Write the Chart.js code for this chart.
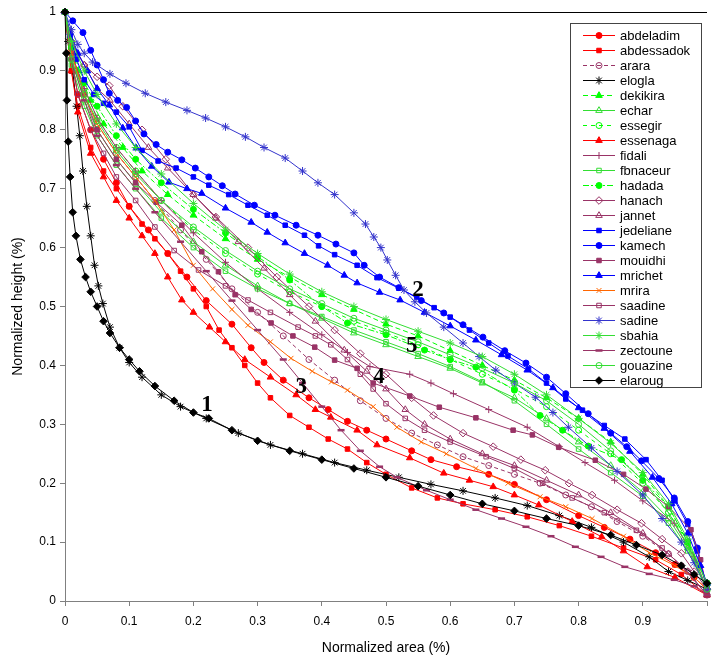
<!DOCTYPE html>
<html>
<head>
<meta charset="utf-8">
<script src="https://cdn.jsdelivr.net/npm/chart.js@4.4.0/dist/chart.umd.min.js"></script>
<style>
  body { margin: 0; background: #fff; }
  canvas { display: block; }
</style>
</head>
<body>
<canvas id="hypso" width="715" height="662"></canvas>
<script>
// normalized area (x) / normalized height (y) pairs
const abdeladim = [[0,1],[0.01,0.92],[0.02,0.86],[0.04,0.8],[0.06,0.75],[0.08,0.71],[0.1,0.67],[0.13,0.63],[0.16,0.59],[0.19,0.55],[0.22,0.51],[0.26,0.47],[0.29,0.43],[0.31,0.405],[0.34,0.375],[0.38,0.345],[0.41,0.325],[0.44,0.305],[0.47,0.29],[0.5,0.275],[0.54,0.255],[0.57,0.24],[0.61,0.228],[0.66,0.215],[0.7,0.198],[0.75,0.172],[0.8,0.145],[0.84,0.125],[0.88,0.105],[0.92,0.082],[0.95,0.062],[0.98,0.04],[1,0.02]];
const abdessadok = [[0,1],[0.01,0.9],[0.02,0.84],[0.04,0.77],[0.06,0.73],[0.08,0.7],[0.1,0.67],[0.12,0.64],[0.14,0.615],[0.16,0.59],[0.18,0.56],[0.2,0.53],[0.22,0.5],[0.24,0.46],[0.26,0.43],[0.28,0.4],[0.3,0.37],[0.32,0.345],[0.35,0.315],[0.38,0.295],[0.41,0.275],[0.44,0.258],[0.47,0.235],[0.5,0.215],[0.54,0.192],[0.58,0.175],[0.62,0.165],[0.67,0.155],[0.72,0.143],[0.77,0.128],[0.82,0.11],[0.87,0.09],[0.92,0.07],[0.96,0.045],[1,0.01]];
const arara = [[0,1],[0.01,0.93],[0.03,0.86],[0.05,0.81],[0.08,0.76],[0.11,0.72],[0.14,0.68],[0.18,0.63],[0.22,0.58],[0.26,0.53],[0.3,0.49],[0.34,0.45],[0.38,0.41],[0.42,0.375],[0.46,0.34],[0.5,0.31],[0.54,0.285],[0.58,0.265],[0.62,0.245],[0.66,0.23],[0.7,0.215],[0.74,0.2],[0.78,0.18],[0.82,0.16],[0.86,0.135],[0.9,0.11],[0.94,0.08],[0.97,0.05],[1,0.01]];
const elogla = [[0,1],[0.005,0.95],[0.012,0.9],[0.018,0.84],[0.023,0.79],[0.028,0.73],[0.034,0.67],[0.04,0.62],[0.046,0.57],[0.052,0.535],[0.059,0.505],[0.07,0.465],[0.085,0.43],[0.1,0.405],[0.12,0.38],[0.15,0.35],[0.18,0.33],[0.22,0.31],[0.27,0.285],[0.32,0.265],[0.37,0.25],[0.42,0.235],[0.47,0.222],[0.52,0.21],[0.57,0.198],[0.62,0.187],[0.67,0.175],[0.72,0.162],[0.77,0.145],[0.82,0.125],[0.87,0.1],[0.91,0.075],[0.94,0.05],[0.97,0.035],[1,0.02]];
const dekikira = [[0,1],[0.01,0.94],[0.02,0.9],[0.04,0.85],[0.06,0.81],[0.09,0.77],[0.12,0.73],[0.16,0.69],[0.2,0.655],[0.25,0.615],[0.3,0.58],[0.35,0.55],[0.4,0.52],[0.45,0.495],[0.5,0.47],[0.55,0.45],[0.6,0.425],[0.65,0.4],[0.7,0.375],[0.75,0.345],[0.8,0.31],[0.85,0.27],[0.9,0.215],[0.94,0.16],[0.97,0.1],[1,0.03]];
const echar = [[0,1],[0.01,0.92],[0.03,0.85],[0.05,0.8],[0.08,0.75],[0.11,0.71],[0.15,0.66],[0.2,0.61],[0.25,0.57],[0.3,0.535],[0.35,0.505],[0.4,0.48],[0.45,0.455],[0.5,0.435],[0.55,0.415],[0.6,0.395],[0.65,0.37],[0.7,0.345],[0.75,0.31],[0.8,0.27],[0.85,0.23],[0.9,0.185],[0.94,0.14],[0.97,0.09],[1,0.02]];
const essegir = [[0,1],[0.01,0.93],[0.03,0.87],[0.05,0.82],[0.08,0.77],[0.11,0.73],[0.15,0.68],[0.2,0.63],[0.25,0.59],[0.3,0.555],[0.35,0.525],[0.4,0.5],[0.45,0.475],[0.5,0.455],[0.55,0.435],[0.6,0.41],[0.65,0.385],[0.7,0.36],[0.75,0.33],[0.8,0.29],[0.85,0.25],[0.9,0.2],[0.94,0.15],[0.97,0.1],[1,0.03]];
const essenaga = [[0,1],[0.01,0.9],[0.02,0.83],[0.04,0.76],[0.06,0.72],[0.08,0.68],[0.1,0.65],[0.12,0.62],[0.14,0.59],[0.16,0.55],[0.182,0.511],[0.2,0.49],[0.225,0.465],[0.25,0.44],[0.28,0.41],[0.32,0.38],[0.36,0.35],[0.39,0.325],[0.414,0.312],[0.455,0.29],[0.486,0.265],[0.537,0.243],[0.59,0.217],[0.63,0.205],[0.667,0.194],[0.7,0.18],[0.738,0.163],[0.79,0.135],[0.836,0.109],[0.87,0.085],[0.907,0.058],[0.95,0.04],[1,0.01]];
const fidali = [[0,1],[0.01,0.93],[0.03,0.87],[0.05,0.82],[0.08,0.77],[0.11,0.73],[0.15,0.68],[0.2,0.625],[0.25,0.575],[0.3,0.53],[0.35,0.49],[0.4,0.452],[0.44,0.422],[0.475,0.398],[0.537,0.385],[0.57,0.37],[0.605,0.352],[0.66,0.325],[0.72,0.295],[0.77,0.262],[0.81,0.235],[0.856,0.205],[0.9,0.17],[0.949,0.132],[0.98,0.075],[1,0.02]];
const fbnaceur = [[0,1],[0.01,0.91],[0.03,0.84],[0.05,0.79],[0.08,0.74],[0.11,0.7],[0.15,0.65],[0.2,0.6],[0.25,0.56],[0.3,0.53],[0.35,0.505],[0.4,0.483],[0.45,0.46],[0.5,0.44],[0.55,0.42],[0.6,0.398],[0.65,0.372],[0.7,0.34],[0.75,0.3],[0.8,0.258],[0.85,0.218],[0.9,0.178],[0.94,0.132],[0.97,0.085],[1,0.02]];
const hadada = [[0,1],[0.01,0.94],[0.03,0.88],[0.05,0.84],[0.08,0.79],[0.11,0.75],[0.15,0.71],[0.2,0.665],[0.25,0.625],[0.3,0.585],[0.35,0.545],[0.4,0.5],[0.44,0.472],[0.5,0.452],[0.56,0.426],[0.6,0.41],[0.64,0.397],[0.7,0.358],[0.74,0.315],[0.775,0.29],[0.815,0.263],[0.867,0.24],[0.9,0.205],[0.94,0.16],[0.97,0.1],[1,0.03]];
const hanach = [[0,1],[0.01,0.95],[0.03,0.91],[0.05,0.89],[0.069,0.875],[0.09,0.84],[0.12,0.8],[0.157,0.75],[0.2,0.69],[0.235,0.652],[0.285,0.6],[0.33,0.55],[0.38,0.5],[0.42,0.46],[0.46,0.42],[0.5,0.385],[0.54,0.345],[0.574,0.315],[0.62,0.285],[0.667,0.262],[0.71,0.24],[0.748,0.222],[0.785,0.2],[0.821,0.18],[0.86,0.155],[0.898,0.132],[0.93,0.105],[0.96,0.081],[0.98,0.05],[1,0.02]];
const jannet = [[0,1],[0.01,0.95],[0.03,0.91],[0.05,0.87],[0.07,0.85],[0.1,0.81],[0.13,0.77],[0.16,0.735],[0.2,0.69],[0.235,0.65],[0.27,0.61],[0.31,0.565],[0.35,0.52],[0.39,0.475],[0.435,0.426],[0.47,0.39],[0.5,0.36],[0.53,0.325],[0.56,0.3],[0.6,0.275],[0.65,0.25],[0.7,0.23],[0.75,0.205],[0.8,0.18],[0.85,0.15],[0.9,0.115],[0.94,0.08],[0.97,0.05],[1,0.01]];
const jedeliane = [[0,1],[0.008,0.96],[0.018,0.92],[0.03,0.885],[0.045,0.86],[0.06,0.845],[0.08,0.83],[0.1,0.805],[0.12,0.765],[0.145,0.747],[0.173,0.735],[0.2,0.72],[0.224,0.706],[0.255,0.69],[0.285,0.672],[0.315,0.655],[0.343,0.638],[0.373,0.621],[0.395,0.603],[0.42,0.588],[0.455,0.57],[0.486,0.549],[0.52,0.531],[0.548,0.516],[0.575,0.498],[0.6,0.482],[0.63,0.46],[0.66,0.438],[0.69,0.416],[0.722,0.394],[0.75,0.37],[0.78,0.343],[0.806,0.324],[0.84,0.298],[0.872,0.275],[0.905,0.24],[0.93,0.205],[0.95,0.17],[0.97,0.13],[0.985,0.085],[1,0.02]];
const kamech = [[0,1],[0.012,0.985],[0.028,0.965],[0.04,0.935],[0.05,0.91],[0.06,0.885],[0.069,0.862],[0.082,0.85],[0.096,0.838],[0.11,0.815],[0.123,0.793],[0.142,0.775],[0.16,0.762],[0.182,0.749],[0.203,0.735],[0.224,0.72],[0.245,0.705],[0.265,0.691],[0.295,0.672],[0.327,0.655],[0.36,0.638],[0.394,0.621],[0.422,0.606],[0.45,0.591],[0.466,0.57],[0.49,0.55],[0.52,0.532],[0.555,0.51],[0.59,0.489],[0.62,0.469],[0.651,0.448],[0.685,0.425],[0.718,0.404],[0.75,0.38],[0.78,0.352],[0.815,0.318],[0.85,0.285],[0.875,0.262],[0.898,0.238],[0.925,0.208],[0.949,0.175],[0.97,0.135],[0.985,0.09],[1,0.02]];
const mouidhi = [[0,1],[0.01,0.93],[0.03,0.86],[0.05,0.8],[0.08,0.75],[0.11,0.71],[0.142,0.677],[0.182,0.638],[0.213,0.593],[0.239,0.559],[0.265,0.52],[0.29,0.495],[0.321,0.472],[0.355,0.45],[0.389,0.431],[0.42,0.409],[0.455,0.395],[0.48,0.37],[0.537,0.348],[0.583,0.329],[0.64,0.311],[0.698,0.29],[0.728,0.282],[0.769,0.261],[0.826,0.239],[0.87,0.215],[0.905,0.19],[0.94,0.16],[0.975,0.121],[0.99,0.07],[1,0.02]];
const mrichet = [[0,1],[0.008,0.965],[0.02,0.93],[0.035,0.9],[0.05,0.87],[0.069,0.842],[0.09,0.803],[0.111,0.769],[0.135,0.738],[0.162,0.711],[0.19,0.7],[0.213,0.692],[0.25,0.667],[0.29,0.643],[0.315,0.626],[0.343,0.608],[0.373,0.59],[0.409,0.57],[0.435,0.553],[0.455,0.54],[0.49,0.524],[0.522,0.511],[0.56,0.49],[0.6,0.467],[0.64,0.443],[0.68,0.418],[0.72,0.392],[0.76,0.362],[0.8,0.328],[0.84,0.293],[0.88,0.254],[0.915,0.21],[0.945,0.165],[0.97,0.115],[0.99,0.06],[1,0.03]];
const mrira = [[0,1],[0.01,0.93],[0.03,0.86],[0.05,0.81],[0.08,0.76],[0.11,0.72],[0.14,0.68],[0.17,0.63],[0.2,0.57],[0.23,0.53],[0.26,0.495],[0.285,0.468],[0.32,0.44],[0.352,0.412],[0.385,0.39],[0.415,0.372],[0.44,0.358],[0.48,0.33],[0.517,0.295],[0.555,0.27],[0.594,0.25],[0.64,0.225],[0.69,0.2],[0.74,0.177],[0.78,0.16],[0.821,0.14],[0.87,0.11],[0.91,0.082],[0.95,0.06],[0.98,0.04],[1,0.02]];
const saadine = [[0,1],[0.01,0.92],[0.02,0.86],[0.04,0.8],[0.06,0.76],[0.08,0.72],[0.11,0.68],[0.14,0.635],[0.17,0.595],[0.208,0.562],[0.25,0.535],[0.285,0.511],[0.32,0.49],[0.363,0.465],[0.39,0.45],[0.414,0.435],[0.44,0.41],[0.46,0.385],[0.48,0.36],[0.5,0.335],[0.53,0.31],[0.56,0.29],[0.6,0.27],[0.656,0.245],[0.7,0.225],[0.744,0.2],[0.79,0.175],[0.84,0.15],[0.89,0.12],[0.93,0.09],[0.96,0.06],[1,0.01]];
const sadine = [[0,1],[0.01,0.97],[0.02,0.945],[0.03,0.93],[0.043,0.915],[0.07,0.895],[0.095,0.879],[0.125,0.862],[0.157,0.847],[0.19,0.833],[0.219,0.82],[0.25,0.805],[0.281,0.788],[0.31,0.77],[0.343,0.752],[0.37,0.73],[0.394,0.71],[0.42,0.69],[0.45,0.659],[0.468,0.64],[0.481,0.618],[0.492,0.6],[0.502,0.579],[0.515,0.553],[0.528,0.528],[0.545,0.508],[0.563,0.489],[0.59,0.465],[0.62,0.438],[0.645,0.415],[0.671,0.392],[0.7,0.37],[0.733,0.346],[0.76,0.32],[0.784,0.295],[0.82,0.26],[0.86,0.22],[0.9,0.18],[0.93,0.14],[0.96,0.1],[0.98,0.065],[1,0.02]];
const sbahia = [[0,1],[0.01,0.95],[0.03,0.9],[0.05,0.86],[0.08,0.81],[0.11,0.77],[0.15,0.725],[0.2,0.675],[0.25,0.63],[0.3,0.59],[0.35,0.555],[0.4,0.525],[0.45,0.5],[0.5,0.478],[0.55,0.458],[0.6,0.438],[0.65,0.415],[0.7,0.385],[0.75,0.35],[0.8,0.31],[0.85,0.268],[0.9,0.218],[0.94,0.165],[0.97,0.105],[1,0.03]];
const zectoune = [[0,1],[0.01,0.92],[0.03,0.85],[0.05,0.79],[0.08,0.74],[0.11,0.7],[0.14,0.66],[0.18,0.61],[0.22,0.56],[0.26,0.51],[0.3,0.46],[0.34,0.41],[0.37,0.37],[0.4,0.33],[0.43,0.29],[0.46,0.255],[0.49,0.228],[0.517,0.21],[0.563,0.188],[0.6,0.172],[0.64,0.155],[0.68,0.14],[0.718,0.126],[0.757,0.11],[0.795,0.092],[0.835,0.075],[0.872,0.058],[0.91,0.046],[0.949,0.036],[0.98,0.025],[1,0.01]];
const gouazine = [[0,1],[0.01,0.92],[0.03,0.86],[0.05,0.815],[0.08,0.765],[0.11,0.725],[0.15,0.68],[0.2,0.635],[0.25,0.595],[0.3,0.56],[0.35,0.53],[0.4,0.505],[0.45,0.48],[0.5,0.46],[0.55,0.44],[0.6,0.418],[0.65,0.395],[0.7,0.37],[0.75,0.34],[0.8,0.3],[0.85,0.255],[0.9,0.205],[0.94,0.15],[0.97,0.095],[1,0.02]];
const elaroug = [[0,1],[0.002,0.93],[0.003,0.85],[0.005,0.78],[0.008,0.72],[0.012,0.66],[0.017,0.62],[0.024,0.58],[0.032,0.55],[0.04,0.525],[0.05,0.5],[0.06,0.475],[0.07,0.455],[0.085,0.43],[0.1,0.41],[0.116,0.39],[0.14,0.365],[0.17,0.34],[0.2,0.32],[0.224,0.31],[0.26,0.29],[0.3,0.272],[0.35,0.255],[0.4,0.24],[0.45,0.225],[0.5,0.21],[0.55,0.195],[0.6,0.18],[0.65,0.165],[0.7,0.153],[0.75,0.14],[0.8,0.128],[0.85,0.112],[0.89,0.095],[0.93,0.078],[0.96,0.06],[0.98,0.045],[1,0.03]];

// curve-group numbers written on the plot
const tagText = ['1', '2', '3', '4', '5'];
const tagX = [0.221, 0.550, 0.368, 0.489, 0.540];
const tagY = [0.333, 0.528, 0.364, 0.381, 0.432];

const RED = '#ff0000', PURPLE = '#993366', GREEN = '#00ff00', LGREEN = '#33dd33';
const BLUE = '#0000ff', SBLUE = '#3333cc', ORANGE = '#ff6600', BLACK = '#000000';

const series = [
  ['abdeladim', abdeladim, RED, 'circle', true, null],
  ['abdessadok', abdessadok, RED, 'rect', true, null],
  ['arara', arara, PURPLE, 'circle', false, [4, 3]],
  ['elogla', elogla, BLACK, 'star', false, null],
  ['dekikira', dekikira, GREEN, 'triangle', true, [5, 3]],
  ['echar', echar, LGREEN, 'triangle', false, null],
  ['essegir', essegir, GREEN, 'circle', false, [4, 4]],
  ['essenaga', essenaga, RED, 'triangle', true, null],
  ['fidali', fidali, PURPLE, 'cross', false, null],
  ['fbnaceur', fbnaceur, LGREEN, 'rect', false, null],
  ['hadada', hadada, GREEN, 'circle', true, [6, 2, 2, 2]],
  ['hanach', hanach, PURPLE, 'rectRot', false, null],
  ['jannet', jannet, PURPLE, 'triangle', false, null],
  ['jedeliane', jedeliane, BLUE, 'rect', true, null],
  ['kamech', kamech, BLUE, 'circle', true, null],
  ['mouidhi', mouidhi, PURPLE, 'rect', true, null],
  ['mrichet', mrichet, BLUE, 'triangle', true, null],
  ['mrira', mrira, ORANGE, 'crossRot', false, null],
  ['saadine', saadine, PURPLE, 'rect', false, null],
  ['sadine', sadine, SBLUE, 'star', false, null],
  ['sbahia', sbahia, LGREEN, 'star', false, null],
  ['zectoune', zectoune, PURPLE, 'line', false, null],
  ['gouazine', gouazine, LGREEN, 'circle', false, null],
  ['elaroug', elaroug, BLACK, 'rectRot', true, null]
];

const markerSize = { circle: 3, rect: 3.2, triangle: 3.8, rectRot: 3.8, star: 4, crossRot: 3.5, cross: 3.5, line: 3.5 };

const datasets = series.map(([label, pts, color, marker, filled, dash], i) => ({
  label: label,
  data: pts.map(p => ({ x: p[0], y: p[1] })),
  borderColor: color,
  borderWidth: 1,
  borderDash: dash || [],
  pointStyle: marker,
  pointRadius: markerSize[marker],
  pointBorderColor: color,
  pointBackgroundColor: filled ? color : 'rgba(255,255,255,0)',
  pointBorderWidth: marker === 'line' ? 2.5 : 1,
  fill: false,
  tension: 0,
  clip: 6,
  order: series.length - i
}));

const fmt = v => String(Math.round(v * 10) / 10);

const decor = {
  id: 'decor',
  afterDraw(chart) {
    const ctx = chart.ctx;
    const area = chart.chartArea;
    ctx.save();
    // black frame line along the top of the plot
    ctx.strokeStyle = '#000';
    ctx.lineWidth = 1;
    ctx.beginPath();
    ctx.moveTo(area.left, area.top + 0.5);
    ctx.lineTo(area.right, area.top + 0.5);
    ctx.stroke();

    // curve group numbers
    ctx.fillStyle = '#000';
    ctx.font = 'bold 23px "Liberation Serif", "DejaVu Serif", serif';
    ctx.textAlign = 'center';
    ctx.textBaseline = 'middle';
    tagText.forEach((t, i) => {
      ctx.fillText(t, chart.scales.x.getPixelForValue(tagX[i]), chart.scales.y.getPixelForValue(tagY[i]));
    });

    // legend box
    ctx.fillStyle = '#fff';
    ctx.fillRect(570.5, 23.5, 131, 364);
    ctx.strokeStyle = '#444';
    ctx.strokeRect(570.5, 23.5, 131, 364);
    ctx.font = '13px "Liberation Sans", Arial, sans-serif';
    ctx.textAlign = 'left';
    chart.data.datasets.forEach((ds, i) => {
      const y = 35.5 + i * 15;
      ctx.strokeStyle = ds.borderColor;
      ctx.lineWidth = 1;
      ctx.setLineDash(ds.borderDash);
      ctx.beginPath();
      ctx.moveTo(583, y);
      ctx.lineTo(615, y);
      ctx.stroke();
      ctx.setLineDash([]);
      ctx.fillStyle = ds.pointBackgroundColor;
      ctx.strokeStyle = ds.pointBorderColor;
      ctx.lineWidth = ds.pointBorderWidth;
      Chart.helpers.drawPoint(ctx, { pointStyle: ds.pointStyle, radius: ds.pointRadius, rotation: 0, borderWidth: ds.pointBorderWidth }, 599, y);
      ctx.fillStyle = '#000';
      ctx.fillText(ds.label, 620, y + 1);
    });
    ctx.restore();
  }
};

new Chart(document.getElementById('hypso'), {
  type: 'line',
  data: { datasets: datasets },
  plugins: [decor],
  options: {
    responsive: false,
    animation: false,
    layout: { padding: { top: 12, right: 2, left: 0, bottom: 0 } },
    plugins: { legend: { display: false }, tooltip: { enabled: false } },
    scales: {
      x: {
        type: 'linear',
        min: 0,
        max: 1,
        afterFit(s) { s.height = 61; },
        ticks: {
          stepSize: 0.1,
          autoSkip: false,
          maxRotation: 0,
          padding: 8,
          color: '#000',
          font: { size: 12, family: '"Liberation Sans", Arial, sans-serif' },
          callback: v => (v >= 0.999 ? '' : fmt(v))
        },
        grid: { drawOnChartArea: false, drawTicks: true, tickLength: 5, color: '#808080' },
        border: { color: '#808080' },
        title: {
          display: true,
          text: 'Normalized area (%)',
          color: '#000',
          font: { size: 14, family: '"Liberation Sans", Arial, sans-serif' },
          padding: { top: 0, bottom: 5 }
        }
      },
      y: {
        type: 'linear',
        min: 0,
        max: 1,
        afterFit(s) { s.width = 65; },
        ticks: {
          stepSize: 0.1,
          autoSkip: false,
          padding: 4,
          color: '#000',
          font: { size: 12, family: '"Liberation Sans", Arial, sans-serif' },
          callback: v => fmt(v)
        },
        grid: { drawOnChartArea: false, drawTicks: true, tickLength: 5, color: '#808080' },
        border: { color: '#808080' },
        title: {
          display: true,
          text: 'Normalized height (%)',
          color: '#000',
          font: { size: 14, family: '"Liberation Sans", Arial, sans-serif' },
          padding: { top: 10, bottom: 0 }
        }
      }
    }
  }
});
</script>
</body>
</html>
